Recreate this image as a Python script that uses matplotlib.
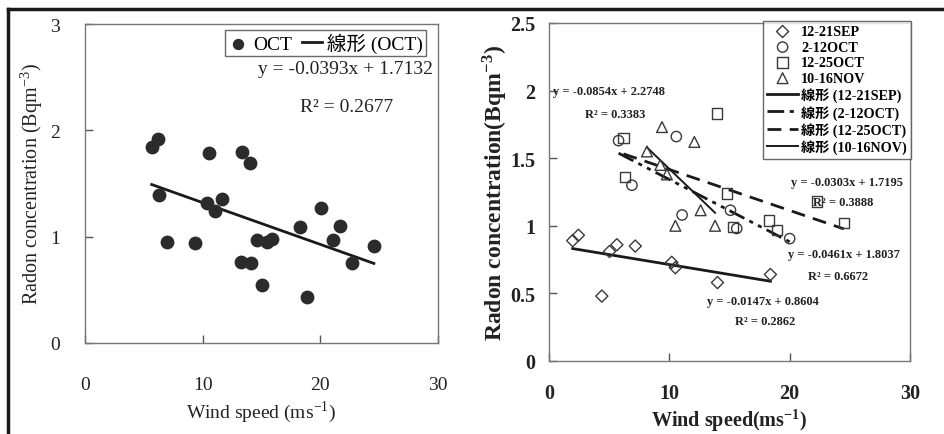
import matplotlib
matplotlib.use("Agg")
import matplotlib.pyplot as plt
import numpy as np
from matplotlib.lines import Line2D
from matplotlib.ticker import FormatStrFormatter

plt.rcParams['font.family'] = ['Liberation Serif', 'Noto Sans CJK JP']
plt.rcParams['mathtext.fontset'] = 'stix'

# ---------------- data: left panel (OCT) ----------------
oct_x = [5.67, 6.23, 6.31, 6.99, 9.35, 10.54, 10.34, 11.05, 11.61, 13.31, 14.02, 13.23,
         14.08, 14.59, 15.44, 15.86, 15.06, 18.27, 18.84, 20.03, 21.10, 21.67, 22.71, 24.55]
oct_y = [1.84, 1.92, 1.39, 0.95, 0.94, 1.79, 1.32, 1.24, 1.35, 1.80, 1.69, 0.76,
         0.75, 0.97, 0.95, 0.98, 0.55, 1.09, 0.43, 1.27, 0.97, 1.10, 0.75, 0.91]
oct_fit = (-0.0393, 1.7132)
oct_r2 = 0.2677

# ---------------- data: right panel ----------------
sep_x = [1.97, 2.44, 4.39, 5.03, 5.64, 7.17, 10.2, 10.5, 14.0, 18.4]
sep_y = [0.89, 0.93, 0.48, 0.81, 0.86, 0.85, 0.73, 0.69, 0.58, 0.64]
sep_fit = (-0.0147, 0.8604)
sep_r2 = 0.2862

oct1_x = [5.78, 6.89, 10.58, 11.06, 15.08, 15.6, 20.0]
oct1_y = [1.63, 1.30, 1.66, 1.08, 1.115, 0.98, 0.905]
oct1_fit = (-0.0461, 1.8037)
oct1_r2 = 0.6672

oct2_x = [6.19, 6.33, 13.97, 14.8, 15.3, 18.3, 18.95, 22.25, 24.5]
oct2_y = [1.65, 1.36, 1.83, 1.24, 0.99, 1.04, 0.97, 1.18, 1.02]
oct2_fit = (-0.0303, 1.7195)
oct2_r2 = 0.3888

nov_x = [8.14, 9.25, 9.39, 9.8, 10.5, 12.08, 12.6, 13.8]
nov_y = [1.55, 1.45, 1.73, 1.38, 1.00, 1.62, 1.115, 1.00]
nov_fit = (-0.0854, 2.2748)
nov_r2 = 0.3383

W, H = 945, 435
fig = plt.figure(figsize=(W / 100, H / 100), dpi=100)

def frac(x0, y0, x1, y1):
    return [x0 / W, 1 - y1 / H, (x1 - x0) / W, (y1 - y0) / H]

spine_c = '#555555'
ink = '#222222'

# ---------- left panel ----------
axL = fig.add_axes(frac(85, 25, 438, 344))
axL.scatter(oct_x, oct_y, s=80, color='#2b2b2b', zorder=3, label='OCT')
xx = np.array([min(oct_x), max(oct_x)])
axL.plot(xx, oct_fit[0] * xx + oct_fit[1], color='#1a1a1a', lw=2, label='線形 (OCT)')
axL.set_xlim(0, 30)
axL.set_ylim(0, 3)
axL.set_xticks([0, 10, 20, 30])
axL.set_yticks([0, 1, 2, 3])
axL.tick_params(direction='in', length=6, width=1, colors=spine_c, labelcolor=ink,
                labelsize=14)
axL.tick_params(axis='x', pad=24)
axL.tick_params(axis='y', pad=18)
for s in axL.spines.values():
    s.set_color('#777777')
    s.set_linewidth(1.0)
axL.set_xlabel('Wind speed (ms$^{\\mathregular{-1}}$)', fontsize=14, color=ink, labelpad=4)
axL.set_ylabel('Radon concentration (Bqm$^{\\mathregular{-3}}$)', fontsize=14.5, color=ink,
               labelpad=4)
legL = axL.legend(ncol=2, loc='upper right', bbox_to_anchor=(436 / W, 1 - 21 / H),
                  bbox_transform=fig.transFigure, fontsize=14, frameon=True,
                  fancybox=False, edgecolor='#444444', handlelength=1.0,
                  handletextpad=0.3, columnspacing=0.5, borderpad=0.15,
                  markerscale=0.8)
legL.get_frame().set_linewidth(1.0)
axL.text(0.986, 0.859, 'y = %.4fx + %.4f' % oct_fit, transform=axL.transAxes,
         ha='right', va='center', fontsize=14, color=ink)
axL.text(0.742, 0.74, 'R² = %.4f' % oct_r2, transform=axL.transAxes,
         ha='center', va='center', fontsize=14, color=ink)

# ---------- right panel ----------
axR = fig.add_axes(frac(549, 24, 910, 362))
mk = dict(facecolor='none', edgecolors='#3a3a3a', linewidths=1.0, zorder=3)
axR.scatter(sep_x, sep_y, marker='D', s=38, label='12-21SEP', **mk)
axR.scatter(oct1_x, oct1_y, marker='o', s=55, label='2-12OCT', **mk)
axR.scatter(oct2_x, oct2_y, marker='s', s=55, label='12-25OCT', **mk)
axR.scatter(nov_x, nov_y, marker='^', s=60, label='10-16NOV', **mk)

def fitline(xs, fit):
    a = np.array([min(xs), max(xs)])
    return a, fit[0] * a + fit[1]

lx, ly = fitline(sep_x, sep_fit)
axR.plot(lx, ly, color='#1a1a1a', lw=2.0, ls='-', label='線形 (12-21SEP)')
lx, ly = fitline(oct1_x, oct1_fit)
axR.plot(lx, ly, color='#1a1a1a', lw=2.0, ls=(0, (6, 2, 1.5, 2, 1.5, 2)),
         label='線形 (2-12OCT)')
lx, ly = fitline(oct2_x, oct2_fit)
axR.plot(lx, ly, color='#1a1a1a', lw=2.0, ls=(0, (5, 3)), label='線形 (12-25OCT)')
lx, ly = fitline(nov_x, nov_fit)
axR.plot(lx, ly, color='#1a1a1a', lw=1.4, ls='-', label='線形 (10-16NOV)')

axR.set_xlim(0, 30)
axR.set_ylim(0, 2.5)
axR.set_xticks([0, 10, 20, 30])
axR.set_yticks([0, 0.5, 1, 1.5, 2, 2.5])
axR.yaxis.set_major_formatter(FormatStrFormatter('%g'))
axR.tick_params(direction='in', length=6, width=1, colors=spine_c, labelcolor=ink,
                labelsize=14.5)
axR.tick_params(axis='x', pad=16)
axR.tick_params(axis='y', pad=10)
for lab in axR.get_xticklabels() + axR.get_yticklabels():
    lab.set_fontweight('bold')
for s in axR.spines.values():
    s.set_color('#777777')
    s.set_linewidth(1.0)
axR.set_xlabel('Wind speed(ms$^{\\mathregular{-1}}$)', fontsize=14.5, fontweight='bold',
               color=ink)
axR.xaxis.set_label_coords(0.5, -0.135)
axR.set_ylabel('Radon concentration(Bqm$^{\\mathregular{-3}}$)', fontsize=17,
               fontweight='bold', color=ink, labelpad=0)

legR = axR.legend(loc='upper right', bbox_to_anchor=(911 / W, 1 - 22 / H),
                  bbox_transform=fig.transFigure, frameon=True,
                  fancybox=False, edgecolor='#444444', handlelength=2.2,
                  handletextpad=0.2, labelspacing=0.18, borderpad=0.3,
                  borderaxespad=0, prop={'weight': 'bold', 'size': 10.2})
legR.get_frame().set_linewidth(1.0)

ann = dict(transform=axR.transAxes, fontsize=9, fontweight='bold', color=ink, va='center')
axR.text(0.011, 0.799, 'y = %.4fx + %.4f' % nov_fit, ha='left', **ann)
axR.text(0.10, 0.731, 'R² = %.4f' % nov_r2, ha='left', **ann)
axR.text(0.98, 0.53, 'y = %.4fx + %.4f' % oct2_fit, ha='right', **ann)
axR.text(0.73, 0.47, 'R² = %.4f' % oct2_r2, ha='left', **ann)
axR.text(0.972, 0.317, 'y = %.4fx + %.4f' % oct1_fit, ha='right', **ann)
axR.text(0.717, 0.251, 'R² = %.4f' % oct1_r2, ha='left', **ann)
axR.text(0.438, 0.178, 'y = %.4fx + %.4f' % sep_fit, ha='left', **ann)
axR.text(0.515, 0.118, 'R² = %.4f' % sep_r2, ha='left', **ann)

# outer frame (top and left edges of the scanned figure)
fig.add_artist(Line2D([8 / W, 1.0], [1 - 10 / H, 1 - 10 / H], color='#1a1a1a', lw=2.5,
                      transform=fig.transFigure))
fig.add_artist(Line2D([8 / W, 8 / W], [0, 1 - 10 / H], color='#1a1a1a', lw=2.5,
                      transform=fig.transFigure))

fig.savefig('out.png', dpi=100)
